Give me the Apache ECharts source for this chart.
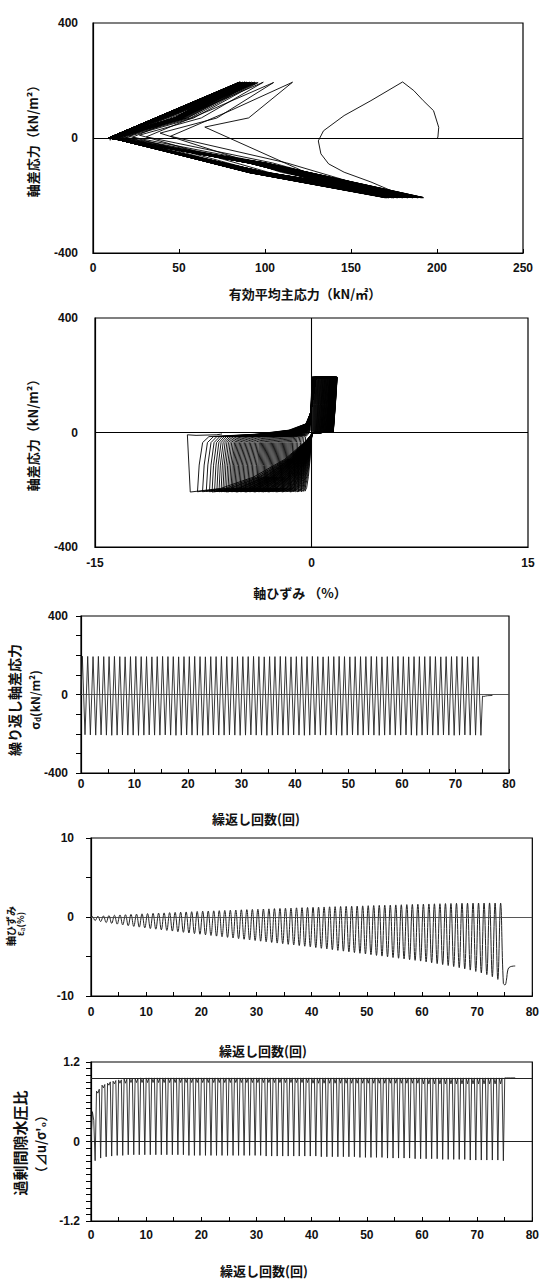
<!DOCTYPE html>
<html><head><meta charset="utf-8">
<script src="https://cdn.jsdelivr.net/npm/echarts@6/dist/echarts.min.js"></script>
<style>html,body{margin:0;padding:0;background:#fff}#c{width:542px;height:1282px}</style>
</head><body><div id="c"></div>
<script>
// ---------- per-cycle values (cycle n = 0..74) ----------
// deviator stress at compression / extension peak (kN/m2)
const qComp = [195,194,193,194,193,193,194,193,192,193, 194,193,193,192,193,194,193,193,192,193, 193,194,193,192,193,193,194,193,192,193, 193,193,194,193,192,193,193,194,193,192, 193,193,193,194,193,192,193,193,194,193, 192,193,193,193,194,193,192,193,193,194, 193,192,193,193,193,194,193,192,193,193, 194,193,192,193,193];
const qExt = [-205,-206,-207,-206,-207,-208,-207,-206,-207,-207, -208,-207,-206,-207,-207,-206,-207,-208,-207,-206, -207,-207,-208,-207,-206,-207,-207,-206,-207,-208, -207,-206,-207,-207,-208,-207,-206,-207,-207,-206, -207,-208,-207,-206,-207,-207,-206,-207,-208,-207, -206,-207,-207,-206,-207,-208,-207,-206,-207,-207, -206,-207,-208,-207,-206,-207,-207,-206,-207,-208, -207,-206,-207,-207,-208];
// axial strain at compression peak (max) / extension peak (min), %
const epsMax = [0.05,0.10,0.14,0.18,0.22,0.26,0.29,0.33,0.36,0.40, 0.43,0.46,0.49,0.52,0.55,0.58,0.61,0.64,0.67,0.70, 0.73,0.75,0.78,0.80,0.83,0.86,0.88,0.91,0.93,0.96, 0.98,1.01,1.03,1.06,1.08,1.11,1.13,1.16,1.18,1.21, 1.23,1.25,1.27,1.29,1.31,1.33,1.35,1.37,1.39,1.41, 1.43,1.45,1.47,1.49,1.51,1.53,1.55,1.57,1.59,1.61, 1.63,1.65,1.67,1.68,1.70,1.71,1.73,1.74,1.75,1.76, 1.77,1.77,1.78,1.77,1.76];
const epsMin = [-0.45,-0.58,-0.70,-0.80,-0.90,-1.00,-1.10,-1.19,-1.28,-1.37, -1.46,-1.54,-1.62,-1.70,-1.78,-1.86,-1.94,-2.02,-2.10,-2.18, -2.26,-2.34,-2.42,-2.50,-2.58,-2.66,-2.74,-2.82,-2.90,-2.98, -3.06,-3.14,-3.22,-3.30,-3.38,-3.46,-3.54,-3.62,-3.70,-3.78, -3.87,-3.96,-4.05,-4.14,-4.23,-4.32,-4.41,-4.50,-4.59,-4.68, -4.77,-4.86,-4.95,-5.04,-5.13,-5.22,-5.31,-5.40,-5.49,-5.58, -5.68,-5.79,-5.90,-6.02,-6.14,-6.27,-6.41,-6.56,-6.72,-6.89, -7.07,-7.29,-7.55,-7.90,-8.40];
// mean effective stress p' at compression peak / extension peak (kN/m2)
const pComp = [180,116,105,99,96,95,94,94,93,93, 92,92,92,91,91,91,90,90,90,90, 89,89,89,89,88,88,88,88,88,87, 87,87,87,87,87,86,86,86,86,86, 86,86,86,85,85,85,85,85,85,85, 85,85,85,85,85,86,86,86,86,86, 86,87,87,87,87,88,88,88,89,89, 89,90,90,91,91];
const pExt = [182,180,178,176,175,174,173,172,171,171, 170,170,170,170,170,170,170,171,171,171, 171,172,172,172,173,173,173,174,174,175, 175,175,176,176,177,177,177,178,178,179, 179,180,180,181,181,182,182,182,183,183, 184,184,185,185,186,186,186,187,187,188, 188,188,189,189,189,190,190,190,191,191, 191,191,192,192,192];
// stress-path tips (minimum p') after compression (A) and after extension (B)
const pTipA = [131,45,31,23,19,17,15,14,13,13, 12,12,12,12,11,11,11,11,11,11, 11,10,10,10,10,10,10,10,10,10, 10,10,10,10,10,9,9,9,9,9, 9,9,9,9,9,9,9,9,9,9, 9,9,9,9,9,9,9,9,9,9, 9,9,9,9,9,9,9,9,9,9, 9,9,9,9,9];
const qTipA = [-10,6,4,3,2,2,1,1,1,1, 1,1,1,0,0,0,0,0,0,0, 0,0,0,0,0,0,0,0,0,0, 0,0,0,0,0,0,0,0,0,0, 0,0,0,0,0,0,0,0,0,0, 0,0,0,0,0,0,0,0,0,0, 0,0,0,0,0,0,0,0,0,0, 0,0,0,0,0];
const pTipB = [65,39,27,21,18,16,15,14,13,13, 12,12,12,12,11,11,11,11,11,11, 11,11,11,11,11,10,10,10,10,10, 10,10,10,10,10,10,10,10,10,10, 10,10,10,10,10,10,10,10,10,10, 10,10,10,10,10,10,10,10,10,10, 10,10,10,10,10,10,10,10,10,10, 10,10,10,10,10];
const qTipB = [38,17,10,6,4,3,3,2,2,2, 1,1,1,1,1,1,1,1,1,1, 1,1,1,1,1,1,1,1,1,1, 1,1,1,1,1,1,1,1,1,1, 1,1,1,1,1,1,1,1,1,1, 1,1,1,1,1,1,1,1,1,1, 1,1,1,1,1,1,1,1,1,1, 1,1,1,1,1];
// excess pore-water pressure ratio at compression peak, tip A, extension peak, tip B
const uComp = [0.45,0.73,0.81,0.85,0.87,0.88,0.88,0.89,0.89,0.89, 0.89,0.89,0.89,0.89,0.89,0.89,0.89,0.89,0.89,0.89, 0.89,0.89,0.89,0.89,0.89,0.89,0.89,0.89,0.89,0.89, 0.89,0.89,0.89,0.89,0.89,0.89,0.89,0.89,0.89,0.89, 0.88,0.88,0.88,0.88,0.88,0.88,0.88,0.88,0.88,0.88, 0.88,0.88,0.88,0.88,0.88,0.88,0.88,0.88,0.88,0.88, 0.87,0.87,0.87,0.87,0.87,0.87,0.87,0.87,0.87,0.87, 0.87,0.87,0.87,0.87,0.87];
const uTipA = [0.32,0.79,0.86,0.90,0.92,0.93,0.94,0.95,0.95,0.95, 0.96,0.96,0.96,0.96,0.96,0.96,0.96,0.96,0.96,0.96, 0.96,0.96,0.96,0.96,0.96,0.96,0.96,0.96,0.96,0.96, 0.96,0.96,0.96,0.96,0.96,0.96,0.96,0.96,0.96,0.96, 0.96,0.96,0.96,0.96,0.96,0.96,0.96,0.96,0.96,0.96, 0.96,0.96,0.96,0.96,0.96,0.96,0.96,0.96,0.96,0.96, 0.96,0.96,0.96,0.96,0.96,0.96,0.96,0.96,0.96,0.96, 0.96,0.96,0.96,0.96,0.96];
const uExt = [-0.29,-0.25,-0.23,-0.22,-0.21,-0.21,-0.20,-0.20,-0.20,-0.20, -0.20,-0.20,-0.20,-0.20,-0.20,-0.20,-0.20,-0.21,-0.21,-0.21, -0.21,-0.21,-0.21,-0.21,-0.21,-0.21,-0.21,-0.21,-0.21,-0.21, -0.21,-0.22,-0.22,-0.22,-0.22,-0.22,-0.22,-0.22,-0.22,-0.22, -0.22,-0.23,-0.23,-0.23,-0.23,-0.23,-0.23,-0.23,-0.24,-0.24, -0.24,-0.24,-0.24,-0.25,-0.25,-0.25,-0.25,-0.25,-0.26,-0.26, -0.26,-0.26,-0.26,-0.27,-0.27,-0.27,-0.27,-0.27,-0.28,-0.28, -0.28,-0.28,-0.28,-0.28,-0.29];
const uTipB = [0.76,0.85,0.88,0.91,0.93,0.945,0.95,0.95,0.96,0.96, 0.96,0.96,0.96,0.96,0.96,0.96,0.96,0.96,0.96,0.96, 0.96,0.96,0.96,0.96,0.96,0.96,0.96,0.96,0.96,0.96, 0.96,0.96,0.96,0.96,0.96,0.96,0.96,0.96,0.96,0.96, 0.96,0.96,0.96,0.96,0.96,0.96,0.96,0.96,0.96,0.96, 0.96,0.96,0.96,0.96,0.96,0.96,0.96,0.96,0.96,0.96, 0.96,0.96,0.96,0.96,0.96,0.96,0.96,0.96,0.96,0.96, 0.96,0.96,0.96,0.96,0.96];
// first loading and first unloading of the stress path (p', q)
const firstLoadP = [200, 200.5, 201, 198, 192, 186.5];
const firstLoadQ = [0, 2, 37, 95, 130, 165];
const firstUnloadP = [161.6, 146, 134, 131, 132.5, 137, 146, 161.6];
const firstUnloadQ = [130, 78, 25, -10, -55, -90, -119, -153];
// after the last cycle
const tailT = [75.05, 75.3, 75.6, 76.0, 76.9];
const tailQ = [-8, -10, -8, -6, -5];
const tailEps = [-8.6, -8.0, -6.6, -6.3, -6.2];
const tailU = [0.96, 0.96, 0.96, 0.96, 0.96];
const tailP = [10, 10, 10, 10, 10];
const pRefLine = 0.95;

// ---------- build series ----------
const N = qComp.length;
const sp = [];   // p'-q
firstLoadP.forEach((p, i) => sp.push([p, firstLoadQ[i]]));
const ss = [[0, 0]]; // eps-q
const tq = [[0, 0]], te = [[0, 0]], tu = [[0, 0]];
const mid = (a, b, f) => a + (b - a) * f;
for (let n = 0; n < N; n++) {
  const qc = qComp[n], qe = qExt[n], eC = epsMax[n], eE = epsMin[n];
  // stress path: loading to compression peak (curved), unloading, extension, unloading
  if (n > 0) sp.push([mid(pTipB[n - 1], pComp[n], 0.5), 0.36 * qc]);
  sp.push([pComp[n], qc]);
  if (n === 0) firstUnloadP.forEach((p, i) => sp.push([p, firstUnloadQ[i]]));
  else { sp.push([mid(pTipA[n], pComp[n], 0.5), 0.5 * qc]); sp.push([pTipA[n], qTipA[n]]); }
  if (n > 0) sp.push([mid(pTipA[n], pExt[n], 0.5), 0.42 * qe]);
  sp.push([pExt[n], qe]);
  sp.push([mid(pTipB[n], pExt[n], 0.5), 0.58 * qe]);
  sp.push([pTipB[n], qTipB[n]]);
  // stress-strain loop: reloading after the previous extension peak
  if (n > 0) {
    const pE = epsMin[n - 1], pq = qExt[n - 1];
    ss.push([pE * 0.985, 0.55 * pq]);
    ss.push([pE * 0.955, 0.17 * pq]);
    ss.push([pE * 0.9, 0.07 * pq]);
    ss.push([pE * 0.5, 0.03 * pq]);
    ss.push([pE * 0.2, 8]);
    ss.push([Math.min(-0.1, pE * 0.05), 30]);
    ss.push([-0.05, 70]);
  }
  // compression
  ss.push([Math.min(0.3, eC * 0.4), qc]);
  ss.push([eC, qc]);
  ss.push([eC * 0.93, 0.5 * qc]);
  ss.push([eC * 0.85, 3]);
  ss.push([0.05, -3]);
  // extension loading
  ss.push([eE * 0.05, 0.15 * qe]);
  ss.push([eE * 0.22, 0.45 * qe]);
  ss.push([eE * 0.48, 0.75 * qe]);
  ss.push([eE * 0.75, 0.94 * qe]);
  ss.push([eE, qe]);
  // time histories
  tq.push([n + 0.25, qc], [n + 0.75, qe]);
  te.push([n + 0.25, eC], [n + 0.75, eE]);
  tu.push([n + 0.25, uComp[n]], [n + 0.5, uTipA[n]], [n + 0.75, uExt[n]], [n + 1, uTipB[n]]);
}
tailT.forEach((t, i) => {
  tq.push([t, tailQ[i]]); te.push([t, tailEps[i]]); tu.push([t, tailU[i]]);
  ss.push([tailEps[i], tailQ[i]]); sp.push([tailP[i], tailQ[i]]);
});

// ---------- layout ----------
const grids = [
  {left: 93, top: 23, width: 430, height: 230},
  {left: 95, top: 318, width: 433, height: 229},
  {left: 81, top: 616, width: 428, height: 157},
  {left: 91, top: 838, width: 444, height: 158},
  {left: 91, top: 1062, width: 444, height: 159}
].map(g => Object.assign({show: true, borderColor: '#000', borderWidth: 1.2, backgroundColor: 'transparent'}, g));

const NUMFONT = '"Liberation Sans", Arial, sans-serif';
const JP = '"Noto Sans CJK JP", sans-serif';
const lbl = (extra) => Object.assign({color: '#111', fontFamily: NUMFONT, fontWeight: 'bold', fontSize: 12, showMinLabel: true, showMaxLabel: true, hideOverlap: false}, extra || {});
const axLine = {show: true, onZero: false, lineStyle: {color: '#000', width: 1.2}};
const noSplit = {show: false};
const tickIn = {show: true, inside: true, length: 4, lineStyle: {color: '#000'}};
const tickOut = {show: true, inside: false, length: 5, lineStyle: {color: '#000'}};

function ax(i, min, max, interval, opts) {
  return Object.assign({type: 'value', gridIndex: i, min, max, interval, axisLine: axLine, splitLine: noSplit}, opts);
}
const only = (vals) => (v) => (vals.some(a => Math.abs(a - v) < 1e-6) ? String(Math.round(v * 10) / 10) : '');
const every10 = v => (Math.abs(v % 10) < 1e-6 ? String(v) : '');

const xAxis = [
  ax(0, 0, 250, 50, {axisTick: tickIn, axisLabel: lbl({margin: 9})}),
  ax(1, -15, 15, 15, {axisTick: {show: false}, axisLabel: lbl({margin: 10})}),
  ax(2, 0, 80, 5, {axisTick: tickIn, axisLabel: lbl({margin: 5, formatter: every10})}),
  ax(3, 0, 80, 5, {axisTick: tickIn, axisLabel: lbl({margin: 10, formatter: every10})}),
  ax(4, 0, 80, 5, {axisTick: tickIn, axisLabel: lbl({margin: 8, formatter: every10})})
];
const yAxis = [
  ax(0, -400, 400, 400, {axisTick: {show: false}, axisLabel: lbl({margin: 15})}),
  ax(1, -400, 400, 400, {axisTick: {show: false}, axisLabel: lbl({margin: 17})}),
  ax(2, -400, 400, 100, {axisTick: tickOut, axisLabel: lbl({margin: 13, formatter: only([-400, 0, 400])})}),
  ax(3, -10, 10, 5, {axisTick: tickOut, axisLabel: lbl({margin: 17, formatter: only([-10, 0, 10])})}),
  ax(4, -1.2, 1.2, 0.1, {axisTick: tickOut, axisLabel: lbl({margin: 11, formatter: only([-1.2, 0, 1.2])})})
];

const ml = (data, color, width) => ({silent: true, symbol: ['none', 'none'], label: {show: false}, lineStyle: {color, width, type: 'solid'}, emphasis: {disabled: true}, data});
const line = (i, data, color, width, markLine) => ({
  type: 'line', xAxisIndex: i, yAxisIndex: i, data, showSymbol: false, symbol: 'none',
  lineStyle: {color, width}, animation: false, silent: true, markLine, z: 2
});

const series = [
  line(0, sp, '#000', 0.9, ml([{yAxis: 0}], '#000', 1.1)),
  line(1, ss, '#000', 0.9, ml([{yAxis: 0}, {xAxis: 0}], '#000', 1.1)),
  line(2, tq, '#222', 0.9, ml([{yAxis: 0}], '#444', 0.9)),
  Object.assign(line(3, te, '#222', 1.0, ml([{yAxis: 0}], '#444', 0.9)), {smooth: 0.4}),
  line(4, tu, '#222', 0.9, ml([{yAxis: 0}, {yAxis: pRefLine}], '#222', 1.0))
];

const T = (text, x, y, size, rot, extra) => ({
  type: 'text', x, y, rotation: rot ? Math.PI / 2 : 0, silent: true,
  style: Object.assign({text, fill: '#111', font: 'bold ' + size + 'px ' + JP, align: 'center', verticalAlign: 'middle', textAlign: 'center', textVerticalAlign: 'middle'}, extra || {})
});

const graphic = [
  T('軸差応力（kN/m²）', 32, 138, 13, true),
  T('有効平均主応力（kN/㎡）', 305, 293, 13, false),
  T('軸差応力（kN/m²）', 32, 432, 13, true),
  T('軸ひずみ （%）', 300, 592, 13, false),
  T('繰り返し軸差応力', 14, 700, 14, true),
  T('{a|σ}{s|d}{a|(kN/m²)}', 34, 700, 12, true, {rich: {a: {fontSize: 12, fontWeight: 'bold', fontFamily: JP, fill: '#111'}, s: {fontSize: 8, fontWeight: 'bold', fontFamily: JP, fill: '#111', padding: [6, 0, 0, 0]}}}),
  T('繰返し回数(回)', 256, 818, 13, false),
  T('軸ひずみ', 10, 926, 10, true),
  T('{a|ε}{s|a}{a|(%)}', 20, 924, 9, true, {rich: {a: {fontSize: 9, fontWeight: 'bold', fontFamily: JP, fill: '#111'}, s: {fontSize: 7, fontFamily: JP, fill: '#111', padding: [4, 0, 0, 0]}}}),
  T('繰返し回数(回)', 263, 1050, 13, false),
  T('過剰間隙水圧比', 19, 1143, 15, true),
  T('（⊿u/σ\'₀）', 40, 1144, 13, true),
  T('繰返し回数(回)', 264, 1270, 13, false)
];

const chart = echarts.init(document.getElementById('c'), null, {renderer: 'svg', width: 542, height: 1282});
chart.setOption({animation: false, backgroundColor: '#fff', grid: grids, xAxis, yAxis, series, graphic, tooltip: {show: false}});
</script></body></html>
